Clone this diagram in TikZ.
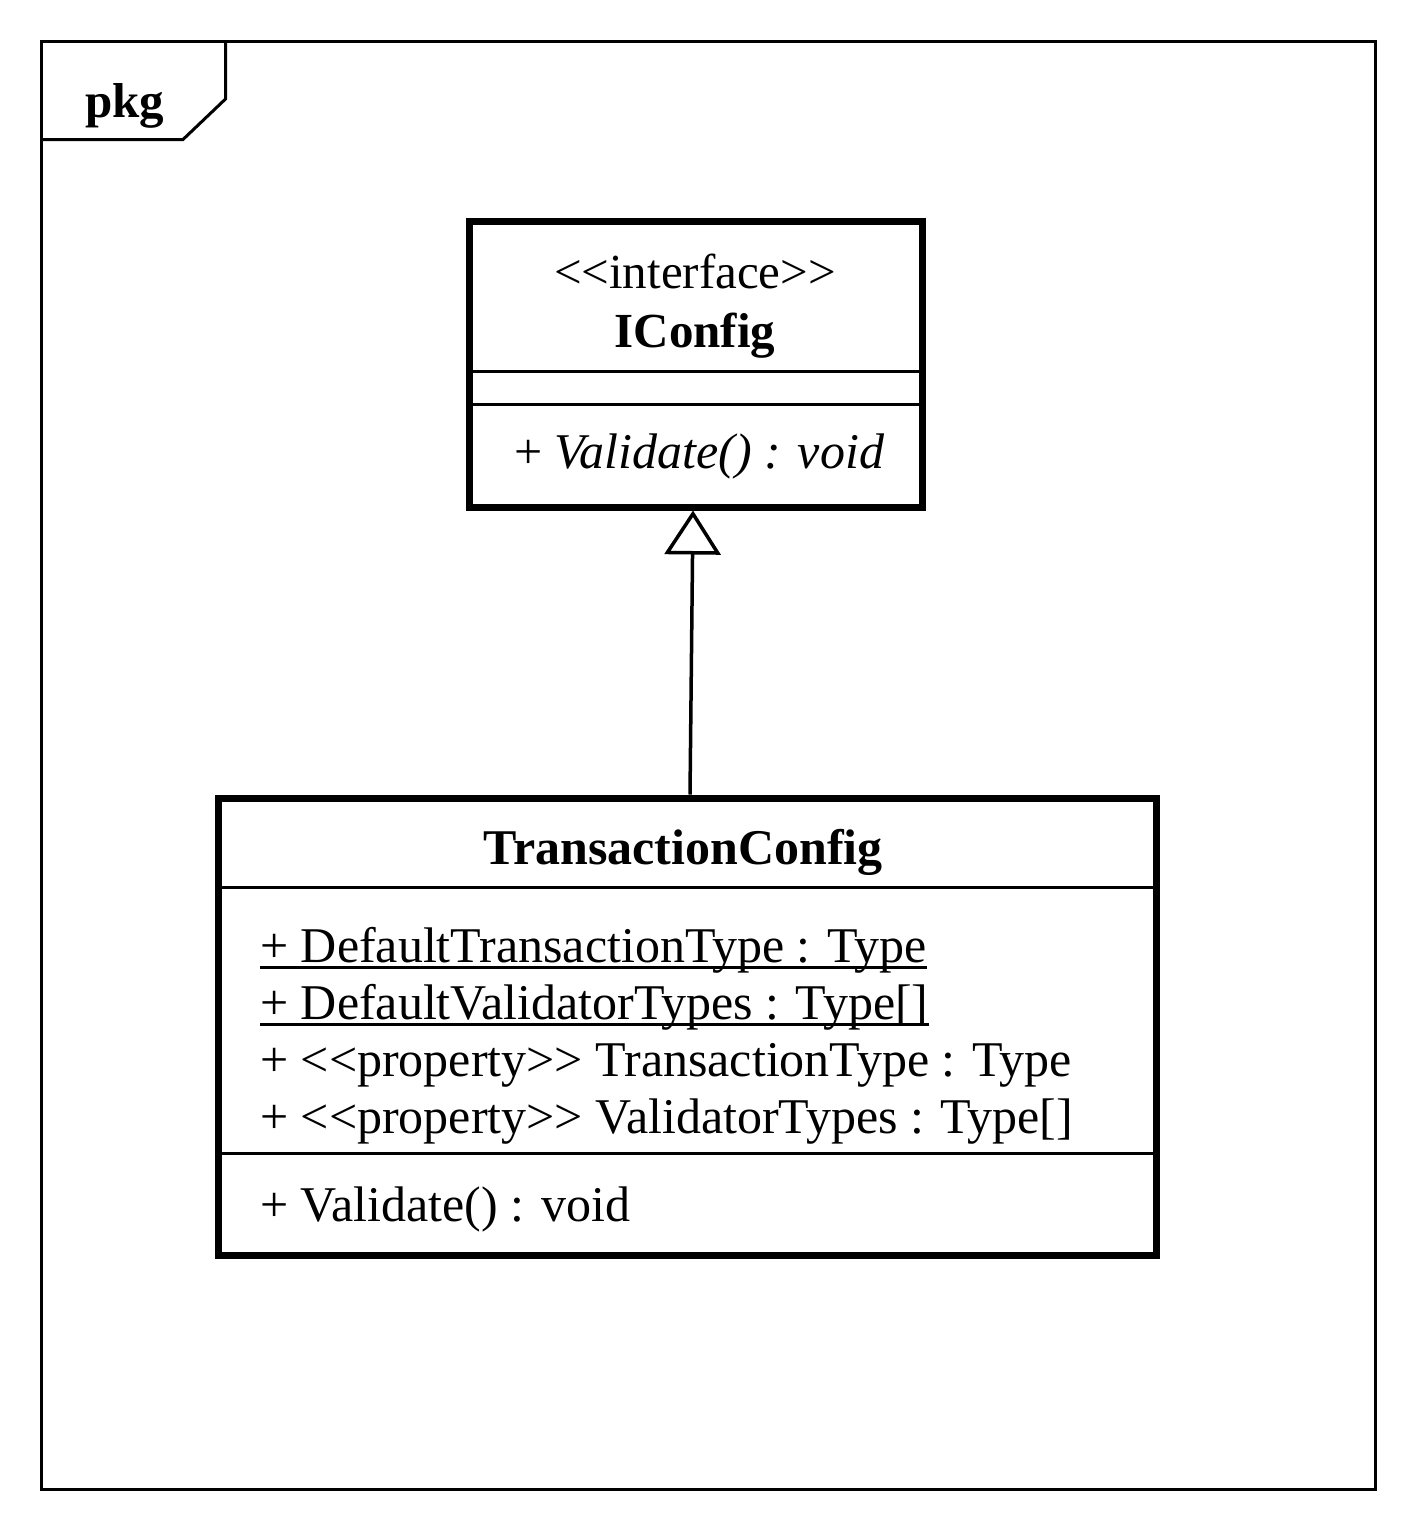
\documentclass[tikz,border=0pt]{standalone}
\usepackage{fontspec}
\setmainfont{Liberation Serif}
\usetikzlibrary{arrows.meta}
\newcommand{\dlt}{<\kern0pt<\kern0pt}
\newcommand{\dgt}{\kern0pt>\kern0pt>}
\begin{document}
\begin{tikzpicture}[x=1pt,y=-1pt,
  classbox/.style={draw,line width=7pt,rectangle,inner sep=0pt},
  divider/.style={line width=3pt},
  txt/.style={inner sep=0pt,font=\fontsize{50}{58}\selectfont},
  txtl/.style={txt,anchor=base west},
  txtc/.style={txt,anchor=base},
  uline/.style={line width=3pt}]
\useasboundingbox (0,0) rectangle (1416,1529);
% package frame
\node[draw,line width=3pt,rectangle,inner sep=0pt,minimum width=1334pt,minimum height=1448pt] (frame) at (708,765) {};
\coordinate (t1) at (225.5,41);
\coordinate (t2) at (225.5,99);
\coordinate (t3) at (183,139.5);
\coordinate (t4) at (41,139.5);
\draw[line width=3pt] (t1) -- (t2) -- (t3) -- (t4);
\node[txtl,font=\fontsize{49}{58}\selectfont\bfseries] (pkg) at (85,117) {pkg};
% IConfig
\node[classbox,minimum width=453pt,minimum height=286pt] (ic) at (695.5,364) {};
\coordinate (icd1l) at (469,371); \coordinate (icd1r) at (922,371);
\coordinate (icd2l) at (469,404); \coordinate (icd2r) at (922,404);
\draw[divider] (icd1l) -- (icd1r);
\draw[divider] (icd2l) -- (icd2r);
\node[txtc,font=\fontsize{49}{58}\selectfont] (icst) at (695,288) {\dlt interface\dgt};
\node[txtc,font=\fontsize{49}{58}\selectfont\bfseries] (icname) at (695,347) {IConfig};
\node[txtl] (icop) at (514,468) {+ \textit{Validate() : void}};
% TransactionConfig
\node[classbox,minimum width=938pt,minimum height=457pt] (tc) at (687,1026.5) {};
\coordinate (tcd1l) at (218,887); \coordinate (tcd1r) at (1156,887);
\coordinate (tcd2l) at (218,1153); \coordinate (tcd2r) at (1156,1153);
\draw[divider] (tcd1l) -- (tcd1r);
\draw[divider] (tcd2l) -- (tcd2r);
\node[txtc,font=\fontsize{50}{58}\selectfont\bfseries] (tcname) at (683,864) {TransactionConfig};
\node[txtl] (a1) at (260,962) {+ DefaultTransactionType : Type};
\node[txtl] (a2) at (260,1019) {+ DefaultValidatorTypes : Type[]};
\node[txtl] (a3) at (260,1076) {+ \dlt property\dgt{} TransactionType : Type};
\node[txtl] (a4) at (260,1133) {+ \dlt property\dgt{} ValidatorTypes : Type[]};
\node[txtl] (m1) at (260,1221) {+ Validate() : void};
\draw[uline] ([yshift=-5pt]a1.base west) -- ([yshift=-5pt]a1.base east);
\draw[uline] ([yshift=-5pt]a2.base west) -- ([yshift=-5pt]a2.base east);
% realization
\draw[line width=3.5pt,-{Triangle[open,length=44pt,width=56pt,line width=3.5pt]}] ([xshift=3pt]tc.north) -- ([xshift=-2.5pt]ic.south);
\end{tikzpicture}
\end{document}
